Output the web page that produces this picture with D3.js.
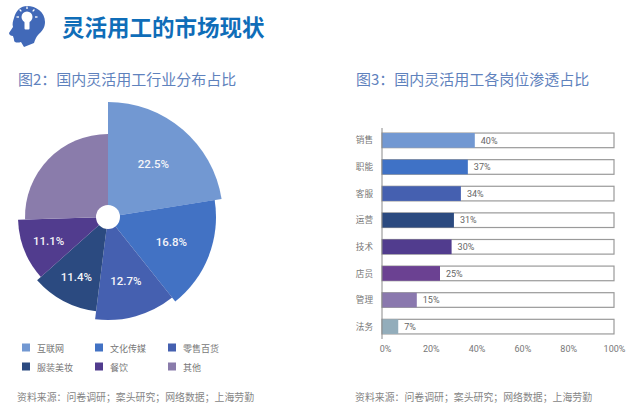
<!DOCTYPE html>
<html><head><meta charset="utf-8">
<script src="https://cdn.jsdelivr.net/npm/d3@7/dist/d3.min.js"></script>
<style>html,body{margin:0;padding:0;background:#fff}svg{display:block}
text{font-family:"Noto Sans CJK SC","Noto Sans",sans-serif}
.num{font-family:"Roboto","Noto Sans",sans-serif}</style></head>
<body><svg id="c" width="640" height="412"></svg>
<script>
const pageTitle = "灵活用工的市场现状";
const pieTitle = "图2：国内灵活用工行业分布占比";
const barTitle = "图3：国内灵活用工各岗位渗透占比";
const sourceText = "资料来源：问卷调研；案头研究；网络数据；上海劳勤";
const pieCategories = ["互联网","文化传媒","零售百货","服装美妆","餐饮","其他"];
const pieValues = [22.5,16.8,12.7,11.4,11.1,25.5];
const pieLabels = ["22.5%","16.8%","12.7%","11.4%","11.1%",""];
const pieColors = ["#7298d2","#4272c4","#4560b0","#2b4a80","#513c8e","#8a7cab"];
const barCategories = ["销售","职能","客服","运营","技术","店员","管理","法务"];
const barValues = [40,37,34,31,30,25,15,7];
const barColors = ["#7298d2","#3f72c6","#4560b0","#2b4a80","#513c8e","#6b4192","#8a78ae","#93adbb"];
const xTicks = [0,20,40,60,80,100];

const svg = d3.select("#c");

// header icon
const icon = svg.append("g");
icon.append("path").attr("fill","#4169b8")
  .attr("d","M27 6C36 6 45 12 45 22C45 28 42 31 38 35C36 37 35 40 34 43L24 47L21 42C18 43 14 43 14 40C14 38 13 37 13 36C11 36 9 35 9 33L13 27C12 24 13 21 14 18C16 10 21 6 27 6Z");
const bulb = icon.append("g").attr("fill","#fff");
bulb.append("circle").attr("cx",27).attr("cy",17).attr("r",5.5);
bulb.append("rect").attr("x",24.5).attr("y",21).attr("width",5).attr("height",8.5).attr("rx",1);
d3.range(8).forEach(i=>{
  if(i===4||i===3||i===5) return;
  const a=i*Math.PI/4;
  bulb.append("line").attr("x1",27+8*Math.sin(a)).attr("y1",17-8*Math.cos(a))
    .attr("x2",27+10.5*Math.sin(a)).attr("y2",17-10.5*Math.cos(a))
    .attr("stroke","#fff").attr("stroke-width",1.3);
});

svg.append("text").attr("x",62).attr("y",36).attr("font-size",22.5).attr("font-weight",700)
  .attr("fill","#0f6db8").text(pageTitle);
svg.append("text").attr("x",18).attr("y",85).attr("font-size",15).attr("fill","#5f82bd").text(pieTitle);
svg.append("text").attr("x",356).attr("y",85).attr("font-size",15).attr("fill","#5f82bd").text(barTitle);

// pie
const pieGroup = svg.append("g").attr("transform","translate(108,217)");
const pie = d3.pie().sort(null).value(d=>d)(pieValues);
const radius = d3.scaleOrdinal().domain(d3.range(6)).range([115,108,103,95,90,83]);
const arcAt = i => d3.arc().innerRadius(0).outerRadius(radius(i));
pieGroup.selectAll("path").data(pie).join("path")
  .attr("d",(d,i)=>arcAt(i)(d)).attr("fill",(d,i)=>pieColors[i]);
pieGroup.append("circle").attr("r",12).attr("fill","#fff");
const labelR = d3.scaleOrdinal().domain(d3.range(6)).range([70,68,66,68,64,0]);
pieGroup.selectAll("text").data(pie).join("text").attr("class","num")
  .attr("transform",(d,i)=>{
    const a=(d.startAngle+d.endAngle)/2,r=labelR(i);
    return `translate(${r*Math.sin(a)},${-r*Math.cos(a)})`;})
  .attr("text-anchor","middle").attr("dy","0.36em").attr("font-size",11.5).attr("font-weight",500)
  .attr("fill","#f4f4f8").text((d,i)=>pieLabels[i]);

// legend
const legX = d3.scalePoint().domain([0,1,2]).range([22,168]);
const legY = d3.scalePoint().domain([0,1]).range([343.5,362.5]);
const leg = svg.append("g").selectAll("g").data(pieCategories).join("g")
  .attr("transform",(d,i)=>`translate(${legX(i%3)},${legY(Math.floor(i/3))})`);
leg.append("rect").attr("width",8).attr("height",8).attr("fill",(d,i)=>pieColors[i]);
leg.append("text").attr("x",15).attr("y",8).attr("font-size",9).attr("fill","#777").text(d=>d);

// bars
const x = d3.scaleLinear().domain([0,100]).range([382,614]);
const xLabel = d3.scaleLinear().domain([0,100]).range([385,614]);
const y = d3.scaleBand().domain(barCategories).range([128,339]).paddingInner(0.45).paddingOuter(0.19);
const rows = svg.append("g").selectAll("g").data(barCategories).join("g");
rows.append("rect").attr("x",x(0)).attr("y",d=>y(d)).attr("width",x(100)-x(0)).attr("height",y.bandwidth())
  .attr("fill","#fff").attr("stroke","#9a9a9a").attr("stroke-width",1.2);
rows.append("rect").attr("x",x(0)).attr("y",d=>y(d)).attr("height",y.bandwidth())
  .attr("width",(d,i)=>x(barValues[i])-x(0)).attr("fill",(d,i)=>barColors[i]);
rows.append("text").attr("class","num").attr("x",(d,i)=>x(barValues[i])+6).attr("y",d=>y(d)+y.bandwidth()/2)
  .attr("dy","0.36em").attr("font-size",9).attr("fill","#666").text((d,i)=>barValues[i]+"%");
rows.append("text").attr("x",373).attr("y",d=>y(d)+y.bandwidth()/2).attr("dy","0.36em")
  .attr("text-anchor","end").attr("font-size",8.6).attr("fill","#777").text(d=>d);
svg.append("line").attr("x1",x(0)).attr("x2",x(0)).attr("y1",128).attr("y2",339)
  .attr("stroke","#8a8a8a").attr("stroke-width",1);
const axis = d3.axisBottom(xLabel).tickValues(xTicks).tickSize(0).tickFormat(d=>d+"%");
const ax = svg.append("g").attr("transform","translate(0,343)").call(axis);
ax.select(".domain").remove();
ax.selectAll("text").attr("class","num").attr("font-size",9).attr("fill","#777");

// sources
svg.append("text").attr("x",17).attr("y",401).attr("font-size",9.9).attr("fill","#858585").text(sourceText);
svg.append("text").attr("x",355).attr("y",401).attr("font-size",9.9).attr("fill","#858585").text(sourceText);
</script></body></html>
